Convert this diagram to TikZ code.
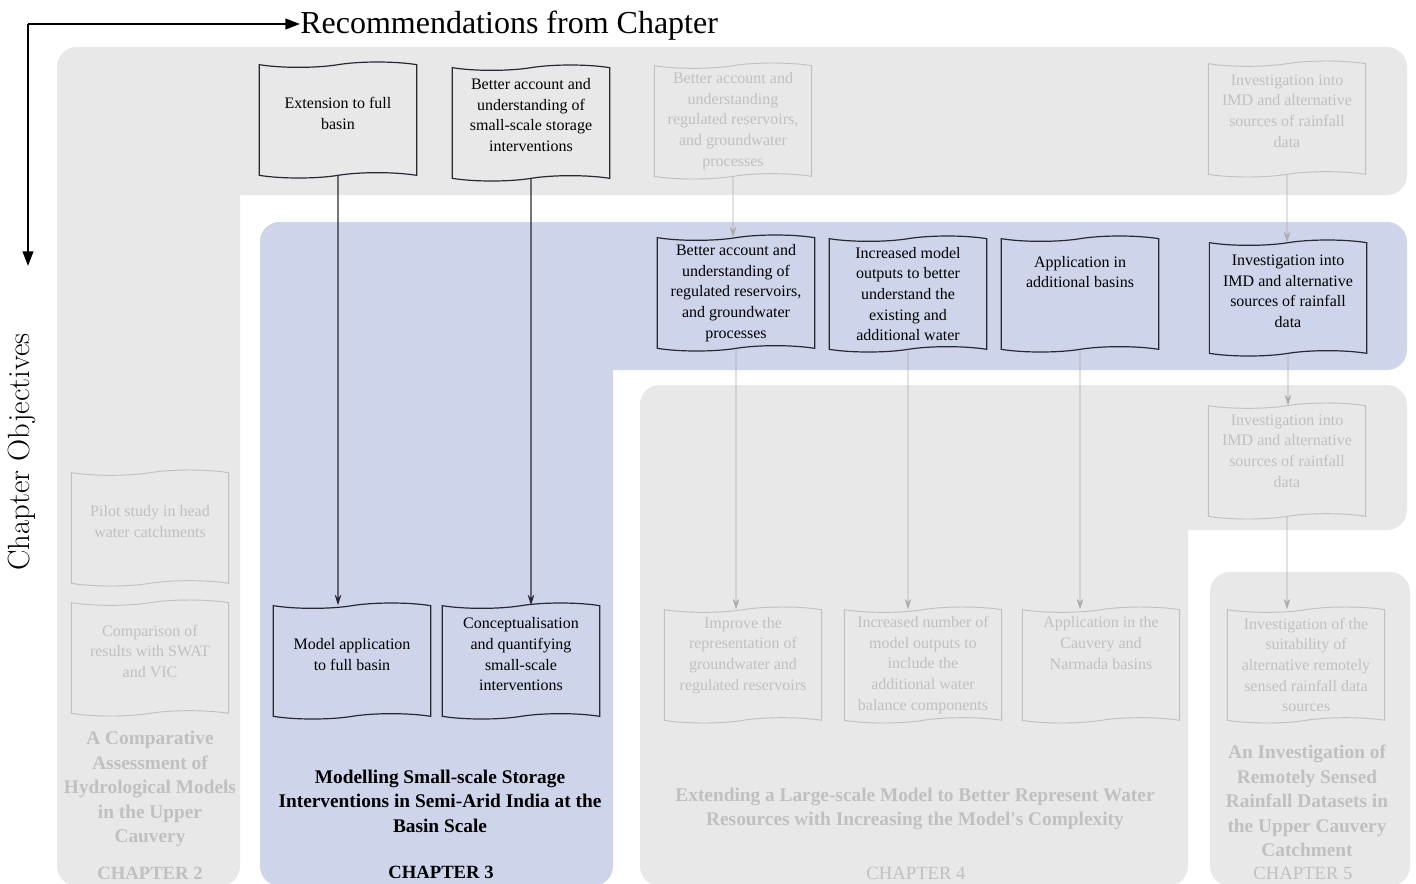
\documentclass[tikz,border=0pt]{standalone}
\usepackage{fontspec}
\usepackage{tikz}
\usetikzlibrary{shapes.symbols,arrows.meta}
\newfontfamily\tnr{Liberation Serif}
\definecolor{greybg}{RGB}{232,232,232}
\definecolor{bluebg}{RGB}{206,212,234}
\definecolor{boxline}{RGB}{40,40,50}
\definecolor{fadeline}{RGB}{192,192,192}
\definecolor{fadetext}{RGB}{192,192,192}
\definecolor{fadearrow}{RGB}{172,172,172}

\begin{document}
\begin{tikzpicture}[x=0.75pt, y=-0.75pt,
		box/.style={tape, tape bend top=in and out, tape bend bottom=in and out, tape bend height=4pt,
			draw=boxline, line width=0.9pt, minimum width=118pt, minimum height=87pt, inner sep=2pt,
			align=center, font=\tnr\fontsize{12}{15.5}\selectfont},
		fadedbox/.style={box, draw=fadeline, text=fadetext, line width=0.7pt},
		lift/.style={text depth=#1},
		arr/.style={-{Stealth[length=8pt,width=5pt]}, draw=boxline, line width=0.8pt},
		fadedarr/.style={arr, draw=fadearrow, line width=0.6pt},
		bigarr/.style={-{Triangle[length=11pt,width=8pt]}, line width=1.5pt},
		title/.style={align=center, font=\tnr\bfseries\fontsize{14.5}{18.4}\selectfont},
		fadedtitle/.style={title, text=fadetext},
		chap/.style={font=\tnr\fontsize{14}{16}\selectfont},
		boldchap/.style={font=\tnr\bfseries\fontsize{14}{16}\selectfont}]
			\useasboundingbox (0,0) rectangle (1416,883);
			% chapter panels
			\fill[greybg, rounded corners=15] (57,47) rectangle (1407,195);
			\fill[greybg, rounded corners=15] (57,47) rectangle (240,886);
			\fill[bluebg, rounded corners=15] (260,222) rectangle (1407,370);
			\fill[bluebg, rounded corners=15] (260,222) rectangle (613,886);
			\fill[greybg, rounded corners=15] (640,385) rectangle (1407,530);
			\fill[greybg, rounded corners=15] (640,385) rectangle (1188,886);
			\fill[greybg, rounded corners=15] (1210,572) rectangle (1410,886);

			% axes
			\coordinate (corner) at (28,24);
			\coordinate (objtip) at (28,266);
			\node[anchor=base west, inner sep=0, font=\tnr\fontsize{24}{28}\selectfont] (rec) at (300,33) {Recommendations from Chapter};
			\node[rotate=90, inner sep=0, font=\fontsize{23}{27}\selectfont] (obj) at (22,452) {Chapter Objectives};
			\draw[bigarr] (corner) -- (corner -| rec.west);
			\draw[bigarr] (corner) -- (objtip);

			% recommendations row
			\node[box, lift=10pt] (ext) at (338,120) {Extension to full\\basin};
			\node[box, lift=12pt] (small) at (531,123) {Better account and\\understanding of\\small-scale storage\\interventions};
			\node[fadedbox] (res0) at (733,121) {Better account and\\understanding\\regulated reservoirs,\\and groundwater\\processes};
			\node[fadedbox, lift=12pt] (imd0) at (1287,119) {Investigation into\\IMD and alternative\\sources of rainfall\\data};

			% chapter 3 objectives row
			\node[box] (res1) at (736,293) {Better account and\\understanding of\\regulated reservoirs,\\and groundwater\\processes};
			\node[box] (out1) at (908,294) {Increased model\\outputs to better\\understand the\\existing and\\additional water};
			\node[box, lift=33pt] (app1) at (1080,294) {Application in\\additional basins};
			\node[box, lift=10pt] (imd1) at (1288,298) {Investigation into\\IMD and alternative\\sources of rainfall\\data};

			% chapter 4 and 5
			\node[fadedbox, lift=15pt] (imd2) at (1287,461) {Investigation into\\IMD and alternative\\sources of rainfall\\data};
			\node[fadedbox, lift=17pt] (res2) at (743,665) {Improve the\\representation of\\groundwater and\\regulated reservoirs};
			\node[fadedbox] (out2) at (923,665) {Increased number of\\model outputs to\\include the\\additional water\\balance components};
			\node[fadedbox, lift=33pt] (app2) at (1101,665) {Application in the\\Cauvery and\\Narmada basins};
			\node[fadedbox] (sens2) at (1306,665) {Investigation of the\\suitability of\\alternative remotely\\sensed rainfall data\\sources};

			% chapter 2
			\node[fadedbox, lift=10pt] (pilot) at (150,528) {Pilot study in head\\water catchments};
			\node[fadedbox, lift=10pt] (swat) at (150,658) {Comparison of\\results with SWAT\\and VIC};

			% chapter 3
			\node[box, lift=10pt] (full) at (352,661) {Model application\\to full basin};
			\node[box, lift=10pt] (conc) at (521,661) {Conceptualisation\\and quantifying\\small-scale\\interventions};

			% links
			\draw[arr] (ext) -- (ext |- full.north);
			\draw[arr] (small) -- (small |- conc.north);
			\draw[fadedarr] (res0) -- (res0 |- res1.north);
			\draw[fadedarr] (imd0) -- (imd0 |- imd1.north);
			\draw[fadedarr] (res1) -- (res1 |- res2.north);
			\draw[fadedarr] (out1) -- (out1 |- out2.north);
			\draw[fadedarr] (app1) -- (app1 |- app2.north);
			\draw[fadedarr] (imd1) -- (imd1 |- imd2.north);
			\draw[fadedarr] (imd2) -- (imd2 |- sens2.north);

			% chapter titles
			\node[fadedtitle] (t2) at (150,789) {A Comparative\\Assessment of\\Hydrological Models\\in the Upper\\Cauvery};
			\node[title] (t3) at (440,801) {Modelling Small-scale Storage\\Interventions in Semi-Arid India at the\\Basin Scale};
			\node[fadedtitle] (t4) at (915,809) {Extending a Large-scale Model to Better Represent Water\\Resources with Increasing the Model's Complexity};
			\node[fadedtitle] (t5) at (1307,801) {An Investigation of\\Remotely Sensed\\Rainfall Datasets in\\the Upper Cauvery\\Catchment};
			\node[boldchap, text=fadetext] (c2) at (150,873) {CHAPTER 2};
			\node[boldchap] (c3) at (441,872) {CHAPTER 3};
			\node[chap, text=fadetext] (c4) at (916,873) {CHAPTER 4};
			\node[chap, text=fadetext] (c5) at (1303,873) {CHAPTER 5};
		\end{tikzpicture}
\end{document}
